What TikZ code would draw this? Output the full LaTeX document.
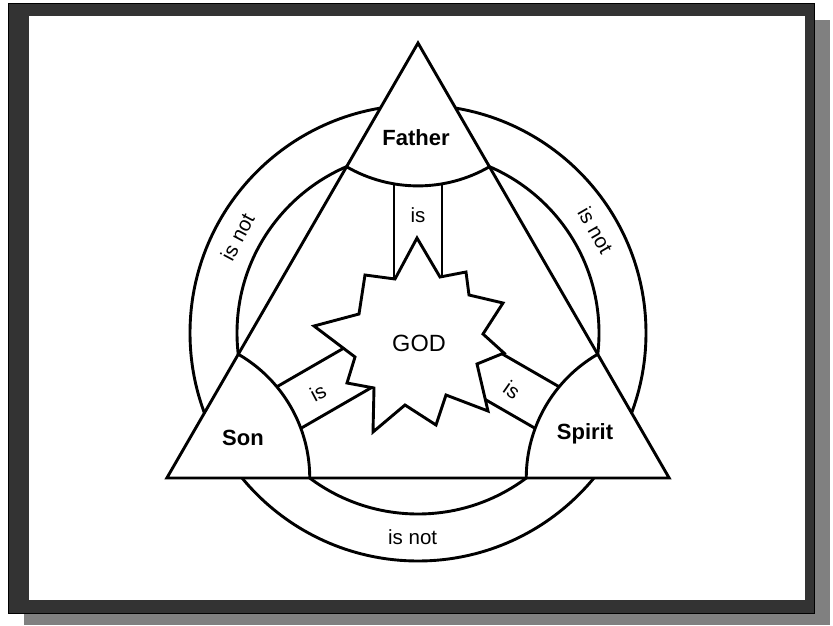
\documentclass[tikz,border=0pt]{standalone}
\usepackage{fontspec}
\setmainfont{Liberation Sans}
\definecolor{framegray}{HTML}{333333}
\definecolor{shadowgray}{HTML}{808080}

\begin{document}
\begin{tikzpicture}[x=1pt, y=1pt, line width=2.9pt,
		person/.style={font=\bfseries\fontsize{22}{22}\selectfont, inner sep=0pt},
		relation/.style={font=\fontsize{20.5}{20.5}\selectfont, inner sep=0pt}]
		\useasboundingbox (0,0) rectangle (833,625);
		% frame and its shadow
		\fill[shadowgray] (24,0) rectangle (830,605);
		\filldraw[fill=framegray, draw=black, line width=1pt] (8,12) rectangle (814,621);
		\fill[white] (29,25) rectangle (805,609);
		\begin{scope}[shift={(418,292)}]
		% the two rings, covered inside the triangle
		\draw (0,0) circle[radius=228];
		\draw (0,0) circle[radius=181];
		\filldraw[fill=white] (90:290) coordinate (vfather) -- (210:290) coordinate (vson) -- (330:290) coordinate (vspirit) -- cycle;
		\draw (vfather) ++(240:142.9) arc[start angle=240, end angle=300, radius=142.9];
		\draw (vson) ++(0:142.9) arc[start angle=0, end angle=60, radius=142.9];
		\draw (vspirit) ++(120:142.9) arc[start angle=120, end angle=180, radius=142.9];
		% the three bands that say is
		\draw[rotate=90] (0,24) -- (149.1,24) (0,-24) -- (149.1,-24);
		\draw[rotate=210] (0,24) -- (149.1,24) (0,-24) -- (149.1,-24);
		\draw[rotate=330] (0,24) -- (149.1,24) (0,-24) -- (149.1,-24);
		\filldraw[fill=white] (-1,95) -- (22,56) -- (48,61) -- (51,38) -- (85,30) -- (65,-1) -- (86,-20) -- (59,-31) -- (70,-78) -- (28,-62) -- (18,-92) -- (-13,-72) -- (-45,-99) -- (-44,-55) -- (-71,-50) -- (-63,-24) -- (-104,7) -- (-59,19) -- (-53,58) -- (-23,54) -- cycle;
		\node[relation, font=\fontsize{23.5}{23.5}\selectfont] (god) at (1,-10) {GOD};
		\node[person] (father) at (-2,195) {Father};
		\node[person] (son) at (-175,-105) {Son};
		\node[person] (spirit) at (167,-101) {Spirit};
		\node[relation] (isfather) at (0,118) {is};
		\node[relation, rotate=28] (isson) at (-100,-60) {is};
		\node[relation, rotate=-35] (isspirit) at (94,-57) {is};
		\node[relation, rotate=62] (notleft) at (152:204.5) {is not};
		\node[relation, rotate=-60] (notright) at (30:205) {is not};
		\node[relation] (notbottom) at (268.5:204) {is not};
		\end{scope}
	\end{tikzpicture}
\end{document}
